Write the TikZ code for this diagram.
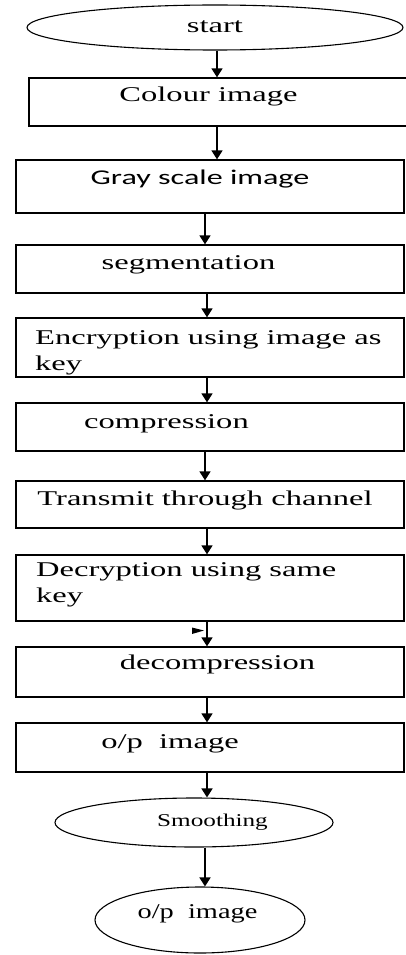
\documentclass[tikz,border=0pt]{standalone}
\usepackage{fontspec}
\setmainfont{Liberation Serif}
\newfontfamily\calibfont{Carlito}
\usetikzlibrary{shapes.geometric,arrows.meta}
% horizontally widened text
\newcommand\stretchtext[2]{\scalebox{#1}[1]{#2}}
\begin{document}
\begin{tikzpicture}[x=1pt,y=-1pt,
  stepbox/.style={draw, line width=1.3pt, rectangle, inner sep=0pt, minimum width=388pt},
  oval/.style={draw, line width=1.1pt, ellipse, inner sep=0pt},
  lbl/.style={inner sep=0pt, anchor=base, font=\fontsize{21}{25}\selectfont},
  lbll/.style={lbl, anchor=base west},
  arr/.style={line width=1.6pt, -{Triangle[width=11pt,length=9pt]}}]
\useasboundingbox (0,0) rectangle (406,955);

% shapes
\node[oval, minimum width=376pt, minimum height=45pt] (start) at (215,27.5) {};
\node[stepbox, minimum width=383pt, minimum height=48pt] (colour) at (220.5,102) {};
\node[stepbox, minimum height=53pt] (gray) at (210,186.5) {};
\node[stepbox, minimum height=48pt] (seg) at (210,269) {};
\node[stepbox, minimum height=59pt] (enc) at (210,347.5) {};
\node[stepbox, minimum height=48pt] (comp) at (210,427) {};
\node[stepbox, minimum height=47pt] (trans) at (210,504.5) {};
\node[stepbox, minimum height=66pt] (dec) at (210,588) {};
\node[stepbox, minimum height=50pt] (decomp) at (210,672) {};
\node[stepbox, minimum height=49pt] (op) at (210,747.5) {};
\node[oval, minimum width=278pt, minimum height=49pt] (smooth) at (194,822.5) {};
\node[oval, minimum width=210pt, minimum height=66pt] (final) at (200,920) {};

% texts
\node[lbl] (tstart) at (215,33) {\stretchtext{1.55}{start}};
\node[lbl] (tcolour) at (208.5,102) {\stretchtext{1.55}{Colour image}};
\node[lbl] (tgray) at (200,184) {\calibfont\stretchtext{1.53}{Gray scale image}};
\node[lbl] (tseg) at (188.5,269) {\stretchtext{1.55}{segmentation}};
\node[lbll] (tencA) at (35,344) {\stretchtext{1.55}{Encryption using image as}};
\node[lbll] (tencB) at (35,370) {\stretchtext{1.55}{key}};
\node[lbl] (tcomp) at (166.5,428) {\stretchtext{1.55}{compression}};
\node[lbl] (ttrans) at (205,505) {\stretchtext{1.55}{Transmit through channel}};
\node[lbll] (tdecA) at (36,576) {\stretchtext{1.55}{Decryption using same}};
\node[lbll] (tdecB) at (36,602) {\stretchtext{1.55}{key}};
\node[lbl] (tdecomp) at (217.5,669) {\stretchtext{1.55}{decompression}};
\node[lbl] (top) at (170,748) {\stretchtext{1.55}{o/p\ \ image}};
\node[lbl, font=\fontsize{18}{22}\selectfont] (tsmooth) at (212.5,826) {\stretchtext{1.4}{Smoothing}};
\node[lbl] (tfinal) at (197.5,918) {\stretchtext{1.35}{o/p\ \ image}};

% connector columns
\coordinate (xa) at (217,0);
\coordinate (xb) at (207,0);
\coordinate (xc) at (205,0);

% connectors
\draw[arr] (start.south -| xa) -- (colour.north -| xa);
\draw[arr] (colour.south -| xa) -- (gray.north -| xa);
\draw[arr] (gray.south -| xc) -- (seg.north -| xc);
\draw[arr] (seg.south -| xb) -- (enc.north -| xb);
\draw[arr] (enc.south -| xb) -- (comp.north -| xb);
\draw[arr] (comp.south -| xc) -- (trans.north -| xc);
\draw[arr] (trans.south -| xb) -- (dec.north -| xb);
\draw[arr] (dec.south -| xb) -- (decomp.north -| xb);
\draw[arr] (decomp.south -| xb) -- (op.north -| xb);
\draw[arr] (op.south -| xb) -- (smooth.north -| xb);
\draw[arr] (smooth.south -| xc) -- (final.north -| xc);

% small flag mark beside the decryption connector
\fill (192,627.5) -- (204,630.5) -- (192,634) -- cycle;
\end{tikzpicture}
\end{document}
